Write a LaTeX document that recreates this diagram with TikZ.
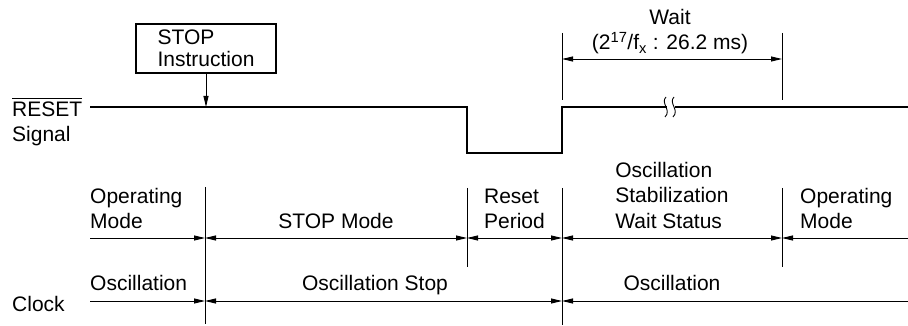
\documentclass[tikz,border=0pt]{standalone}
\usepackage{fontspec}
\setmainfont{Liberation Sans}
\usetikzlibrary{arrows.meta}

\newcommand{\ovbar}[1]{\vbox{\hrule height 0.9pt\kern 2.6pt\hbox{#1}}}

\begin{document}
\begin{tikzpicture}[
  x=1pt, y=-1pt,
  sig/.style={line width=2.6pt, line join=miter},
  box/.style={rectangle, draw, line width=2.4pt, minimum width=140pt, minimum height=49pt, inner sep=0pt, align=left, font=\fontsize{21}{22}\selectfont},
  tick/.style={line width=0.9pt},
  dim/.style={line width=0.9pt, {Triangle[length=11pt,width=5pt]}-{Triangle[length=11pt,width=5pt]}},
  dimr/.style={line width=0.9pt, -{Triangle[length=11pt,width=5pt]}},
  diml/.style={line width=0.9pt, {Triangle[length=11pt,width=5pt]}-},
  lbl/.style={font=\fontsize{21}{25.5}\selectfont, align=left, inner sep=0pt}
]
  \useasboundingbox (0,0) rectangle (908,326);

  % RESET signal
  \coordinate (s0) at (90,107);
  \coordinate (fall) at (467,107);
  \coordinate (rise) at (562,107);
  \coordinate (brka) at (667,107);
  \coordinate (brkb) at (675,107);
  \coordinate (s1) at (908,107);
  \coordinate (stopat) at (206,107);
  \draw[sig] (s0) -- (fall) -- ++(0,46) -| (rise) -- (brka);
  \draw[sig] (brkb) -- (s1);
  \draw[tick] (666,97) .. controls (660,103) and (672,110) .. (665,117);
  \draw[tick] (674,97) .. controls (668,103) and (680,110) .. (673,117);
  \node[lbl, anchor=base west] (resetlbl) at (12,142) {\ovbar{RESET}\\Signal};

  % STOP instruction
  \node[box] (stop) at (206,48.5) {STOP\\Instruction};
  \draw[dimr] (stop) -- (stopat);

  % Wait time
  \coordinate (wa) at (562,59);
  \coordinate (wb) at (782,59);
  \draw[tick] (562,33) -- (562,100);
  \draw[tick] (782,33) -- (782,100);
  \draw[dim] (wa) -- (wb);
  \node[lbl, align=center, anchor=base] (wait) at (670,50) {Wait\\(2\textsuperscript{17}/f\textsubscript{x} : 26.2 ms)};

  % mode boundaries
  \draw[tick] (205,187) -- (205,324);
  \draw[tick] (467,188) -- (467,267);
  \draw[tick] (562,188) -- (562,325);
  \draw[tick] (782,188) -- (782,267);

  % operating modes
  \coordinate (m0) at (90,238);
  \coordinate (m1) at (205,238);
  \coordinate (m2) at (467,238);
  \coordinate (m3) at (562,238);
  \coordinate (m4) at (782,238);
  \coordinate (m5) at (908,238);
  \draw[dimr] (m0) -- (m1);
  \draw[dim] (m1) -- (m2);
  \draw[dim] (m2) -- (m3);
  \draw[dim] (m3) -- (m4);
  \draw[diml] (m4) -- (m5);
  \node[lbl, anchor=base west] (opa) at (90,229) {Operating\\Mode};
  \node[lbl, anchor=base] (stopmode) at (336,229) {STOP Mode};
  \node[lbl, anchor=base] (rstper) at (514.5,229) {Reset\\Period};
  \node[lbl, anchor=base] (oscwait) at (672,228) {Oscillation\\Stabilization\\Wait Status};
  \node[lbl, anchor=base west] (opb) at (800,229) {Operating\\Mode};

  % clock
  \coordinate (c0) at (90,301);
  \coordinate (c1) at (205,301);
  \coordinate (c2) at (562,301);
  \coordinate (c3) at (908,301);
  \draw[dimr] (c0) -- (c1);
  \draw[dim] (c1) -- (c2);
  \draw[diml] (c2) -- (c3);
  \node[lbl, anchor=base west] (clock) at (12,311) {Clock};
  \node[lbl, anchor=base west] (osca) at (90,290) {Oscillation};
  \node[lbl, anchor=base] (oscstop) at (375,290) {Oscillation Stop};
  \node[lbl, anchor=base] (oscb) at (672,290) {Oscillation};
\end{tikzpicture}
\end{document}
